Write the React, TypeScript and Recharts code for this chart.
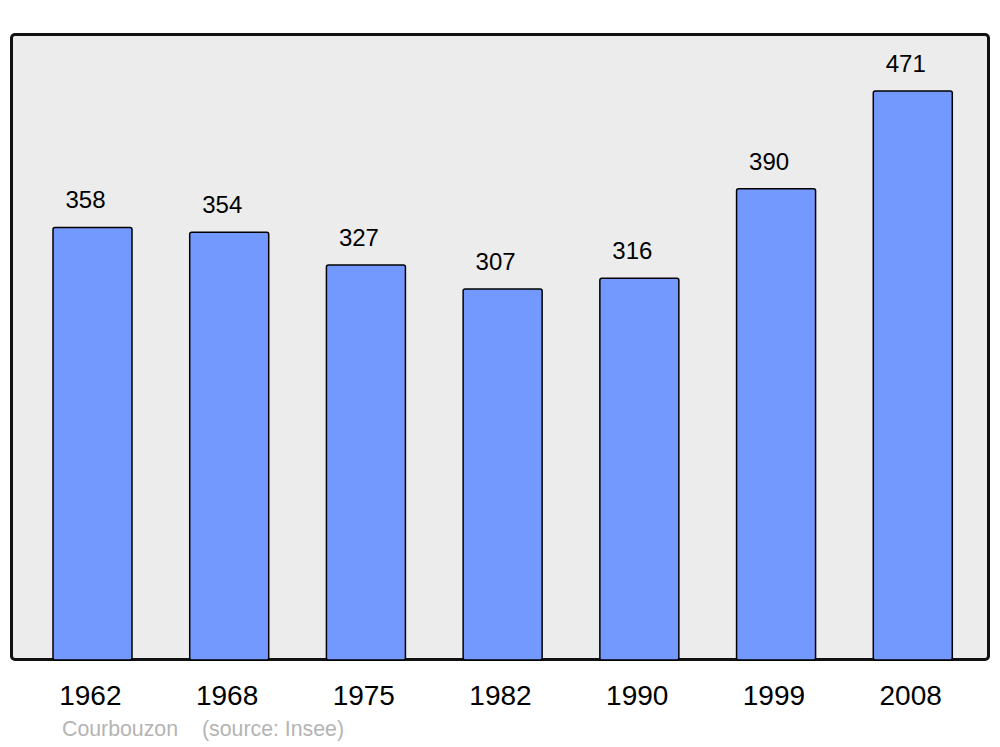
import { BarChart, Bar, XAxis, YAxis, LabelList } from 'recharts'

const years = ['1962', '1968', '1975', '1982', '1990', '1999', '2008']
const population = [358, 354, 327, 307, 316, 390, 471]
const yMax = 471 * 1.1

const chartData = years.map((year, i) => ({ year, population: population[i] }))

const font = '"Liberation Sans", Arial, sans-serif'

export default function App() {
  return (
    <div style={{ position: 'absolute', left: 0, top: 0, width: 1000, height: 747, background: '#fff', fontFamily: font }}>
      {/* plot frame behind the svg */}
      <div
        style={{
          position: 'absolute',
          left: 10,
          top: 33,
          width: 974,
          height: 622,
          border: '3px solid #111',
          borderRadius: 5,
          background: '#ececec',
        }}
      />
      <div style={{ position: 'absolute', left: 0, top: 0 }}>
        <BarChart
          width={1000}
          height={747}
          data={chartData}
          margin={{ top: 34, right: 11, left: 11, bottom: 57 }}
        >
          <XAxis
            dataKey="year"
            height={30}
            axisLine={false}
            tickLine={false}
            tickSize={0}
            tickMargin={25}
            padding={{ left: 13, right: 8 }}
            tick={{ fontSize: 28, fill: '#000', fontFamily: font, dx: -2 }}
            interval={0}
          />
          <YAxis hide domain={[0, yMax]} />
          {/* population bars */}
          <Bar
            dataKey="population"
            fill="#7399ff"
            stroke="#000"
            strokeWidth={1.5}
            barSize={79}
            radius={2}
            isAnimationActive={false}
          >
            <LabelList
              dataKey="population"
              position="top"
              offset={19}
              dx={-7}
              fill="#000"
              fontSize={24}
              fontFamily={font}
            />
          </Bar>
        </BarChart>
      </div>
      <div style={{ position: 'absolute', left: 62, top: 717, fontSize: 21.3, color: '#b4b4b4', whiteSpace: 'nowrap' }}>
        Courbouzon
      </div>
      <div style={{ position: 'absolute', left: 202, top: 717, fontSize: 21.3, color: '#b4b4b4', whiteSpace: 'nowrap' }}>
        (source: Insee)
      </div>
    </div>
  )
}
